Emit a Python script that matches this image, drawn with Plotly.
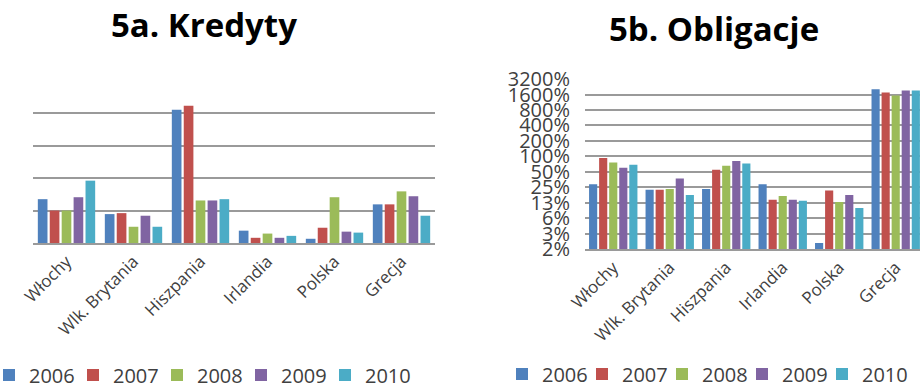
import plotly.graph_objects as go

# Countries shown on both panels
categories = ["Włochy", "Wlk. Brytania", "Hiszpania", "Irlandia", "Polska", "Grecja"]
years = ["2006", "2007", "2008", "2009", "2010"]
colors = ["#4F81BD", "#C0504D", "#9BBB59", "#8064A2", "#4BACC6"]

# 5a. Kredyty (linear scale, no value labels)
kredyty_2006 = [1.35, 0.89, 4.10, 0.38, 0.13, 1.19]
kredyty_2007 = [1.00, 0.92, 4.23, 0.16, 0.47, 1.19]
kredyty_2008 = [1.00, 0.50, 1.31, 0.29, 1.41, 1.59]
kredyty_2009 = [1.41, 0.84, 1.31, 0.16, 0.35, 1.44]
kredyty_2010 = [1.92, 0.50, 1.35, 0.22, 0.32, 0.84]

# 5b. Obligacje (percent, log scale)
obligacje_2006 = [28.7, 22.2, 23.2, 28.7, 2.05, 2040]
obligacje_2007 = [92.7, 22.2, 54.7, 14.3, 21.5, 1750]
obligacje_2008 = [76.0, 23.2, 65.5, 16.9, 12.9, 1530]
obligacje_2009 = [60.0, 37.0, 81.0, 14.3, 17.7, 1915]
obligacje_2010 = [68.7, 17.7, 72.8, 13.7, 9.8, 1915]

# Log-axis ticks (powers of two) and their printed labels
obl_tickvals = [1.5625, 3.125, 6.25, 12.5, 25, 50, 100, 200, 400, 800, 1600, 3200]
obl_ticktext = ["2%", "3%", "6%", "13%", "25%", "50%", "100%", "200%",
                "400%", "800%", "1600%", "3200%"]

kredyty = [kredyty_2006, kredyty_2007, kredyty_2008, kredyty_2009, kredyty_2010]
obligacje = [obligacje_2006, obligacje_2007, obligacje_2008, obligacje_2009, obligacje_2010]

FONT = "Open Sans"
TEXT = "#404040"
GRID = "#9A9A9A"

fig = go.Figure()

# the last legend entry gets extra room so its label is not clipped
for i, (year, vals, col) in enumerate(zip(years, kredyty, colors)):
    fig.add_trace(go.Bar(x=categories, y=vals, name=year, marker_color=col,
                         marker_line_width=0, xaxis="x", yaxis="y",
                         legend="legend",
                         legendwidth=60 if i == len(years) - 1 else None))

for i, (year, vals, col) in enumerate(zip(years, obligacje, colors)):
    fig.add_trace(go.Bar(x=categories, y=vals, name=year, marker_color=col,
                         marker_line_width=0, xaxis="x2", yaxis="y2",
                         legend="legend2",
                         legendwidth=60 if i == len(years) - 1 else None))

W, H = 920, 388

fig.update_layout(
    width=W, height=H,
    margin=dict(l=0, r=0, t=0, b=0, autoexpand=False),
    paper_bgcolor="white", plot_bgcolor="white",
    barmode="group", bargap=0.11, bargroupgap=0.19,
    font=dict(family=FONT, color=TEXT),
    xaxis=dict(domain=[33 / W, 435 / W], anchor="y", automargin=False,
               range=[-0.5, 5.5], showgrid=False,
               showline=True, linecolor=GRID, linewidth=2,
               tickangle=-45, tickfont=dict(size=17, color=TEXT),
               ticks=""),
    yaxis=dict(domain=[1 - 243 / H, 1 - 80 / H], anchor="x", automargin=False,
               range=[0, 5.02], dtick=1, showticklabels=False,
               showgrid=True, gridcolor=GRID, gridwidth=1.5,
               zeroline=False),
    xaxis2=dict(domain=[585 / W, 1.0], anchor="y2", automargin=False,
                range=[-0.5, 5.43], showgrid=False,
                showline=True, linecolor=GRID, linewidth=2,
                tickangle=-45, tickfont=dict(size=17, color=TEXT),
                ticks=""),
    yaxis2=dict(domain=[1 - 249 / H, 1 - 79 / H], anchor="x2", automargin=False,
                type="log", range=[0.19382, 3.5075],
                tickvals=obl_tickvals, ticktext=obl_ticktext,
                tickfont=dict(size=20, color=TEXT),
                ticklabelstandoff=14,
                showgrid=True, gridcolor=GRID, gridwidth=1.5,
                zeroline=False),
    legend=dict(orientation="h", x=-11 / W, xanchor="left",
                y=1 - 375 / H, yanchor="middle",
                font=dict(size=20, color=TEXT), itemwidth=30,
                entrywidth=39, bgcolor="rgba(0,0,0,0)"),
    legend2=dict(orientation="h", x=502 / W, xanchor="left",
                 y=1 - 374 / H, yanchor="middle",
                 font=dict(size=20, color=TEXT), itemwidth=30,
                 entrywidth=35, bgcolor="rgba(0,0,0,0)"),
    annotations=[
        dict(text="<b>5a. Kredyty</b>", x=204 / W, y=1 - 25 / H,
             xref="paper", yref="paper", xanchor="center", yanchor="middle",
             showarrow=False,
             font=dict(size=33, color="black", family=FONT)),
        dict(text="<b>5b. Obligacje</b>", x=714 / W, y=1 - 29 / H,
             xref="paper", yref="paper", xanchor="center", yanchor="middle",
             showarrow=False,
             font=dict(size=33, color="black", family=FONT)),
    ],
)

fig.write_html("out.html")
